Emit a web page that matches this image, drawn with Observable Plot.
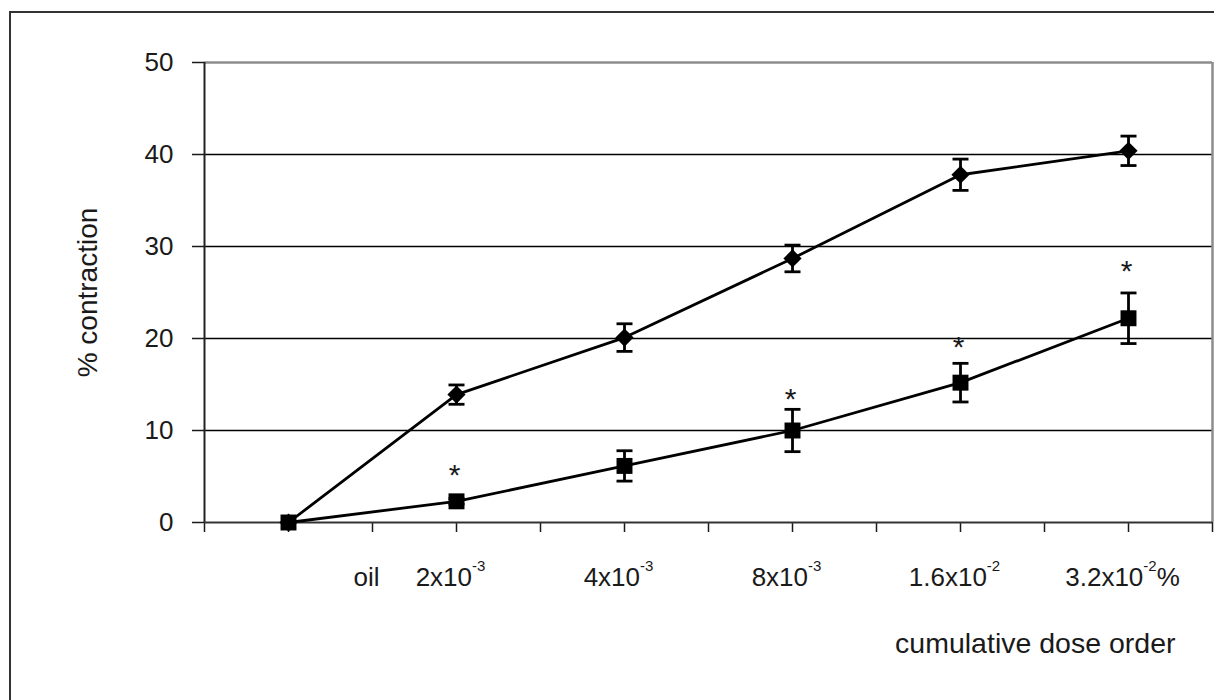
<!DOCTYPE html>
<html>
<head>
<meta charset="utf-8">
<script src="https://cdn.jsdelivr.net/npm/d3@7"></script>
<script src="https://cdn.jsdelivr.net/npm/@observablehq/plot@0.6"></script>
<style>
  html, body { margin: 0; padding: 0; background: #fff; overflow: hidden; }
  #chart { position: relative; width: 1214px; height: 700px; }
  #chart svg { position: absolute; left: 0; top: 0; }
  #chart .sheet {
    position: absolute; left: 9px; top: 11px; right: -20px; bottom: -20px;
    border-left: 2px solid #333; border-top: 2px solid #333;
    pointer-events: none; z-index: 2;
  }
</style>
</head>
<body>
<div id="chart"><div class="sheet"></div></div>
<script>
// Cumulative dose labels (base, exponent, unit)
const doses = ["oil", "2x10", "4x10", "8x10", "1.6x10", "3.2x10"];
const doseExponent = ["", "-3", "-3", "-3", "-2", "-2"];
const doseUnit = ["", "", "", "", "", "%"];

// % contraction, mean ± SE
const controlMean = [0, 13.9, 20.1, 28.7, 37.8, 40.4];
const controlSE   = [0, 1.05, 1.5, 1.45, 1.7, 1.6];
const treatedMean = [0, 2.3, 6.15, 10.0, 15.2, 22.2];
const treatedSE   = [0, 0.3, 1.65, 2.3, 2.1, 2.75];

// significance markers (height of the asterisk, % contraction)
const starLevel = [null, 6.0, null, 14.2, 19.9, 28.2];

const yTicks = [0, 10, 20, 30, 40, 50];
const gridLevels = [10, 20, 30, 40];

const control = controlMean.map((v, i) => ({i, v, e: controlSE[i]}));
const treated = treatedMean.map((v, i) => ({i, v, e: treatedSE[i]}));
const bars = [...control, ...treated].filter(d => d.e > 0);
const caps = bars.flatMap(d => [{i: d.i, y: d.v - d.e}, {i: d.i, y: d.v + d.e}]);
const stars = starLevel.map((y, i) => ({i, y})).filter(d => d.y != null);
// "oil" sits between the baseline point and the first dose
const labels = doses.map((t, i) => ({i: i === 0 ? 0.5 : i, t}));

// horizontal cap for the error bars
const capSymbol = {draw(ctx) { ctx.moveTo(-8, 0); ctx.lineTo(8, 0); }};

const font = "'Liberation Sans', Arial, Helvetica, sans-serif";

const plot = Plot.plot({
  width: 1214,
  height: 700,
  marginLeft: 204,
  marginRight: 2,
  marginTop: 62,
  marginBottom: 178,
  x: {domain: [-0.5, 5.5]},
  y: {domain: [0, 50]},
  style: {fontFamily: font, color: "#1a1a1a", background: "transparent", overflow: "visible"},
  marks: [
    Plot.gridY(gridLevels, {stroke: "#000", strokeOpacity: 1, strokeWidth: 1.4}),
    Plot.ruleY([50], {stroke: "#8c8c8c", strokeWidth: 2.5}),
    Plot.ruleX([5.5], {stroke: "#8c8c8c", strokeWidth: 2.5}),
    Plot.axisY({ticks: yTicks, tickSize: 12, tickPadding: 19, fontSize: 26, label: null, strokeWidth: 1.5}),
    Plot.axisX({ticks: d3.range(-0.5, 5.51, 0.5), tickSize: 10, tickFormat: () => "", label: null, strokeWidth: 1.5}),
    Plot.ruleX([-0.5], {stroke: "#222", strokeWidth: 2}),
    Plot.ruleY([0], {stroke: "#333", strokeWidth: 2.2}),
    Plot.text(["% contraction"], {frameAnchor: "left", textAnchor: "middle", rotate: -90, dx: -116, fontSize: 28}),
    Plot.text(["cumulative dose order"], {frameAnchor: "bottom-right", textAnchor: "end", dx: -37, dy: 130, fontSize: 28.5}),
    Plot.text(labels, {x: "i", text: "t", frameAnchor: "bottom", dy: 63, dx: -6, fontSize: 26, ariaDescription: "dose labels"}),
    Plot.line(control, {x: "i", y: "v", stroke: "#000", strokeWidth: 2.8}),
    Plot.line(treated, {x: "i", y: "v", stroke: "#000", strokeWidth: 2.8}),
    Plot.ruleX(bars, {x: "i", y1: d => d.v - d.e, y2: d => d.v + d.e, stroke: "#000", strokeWidth: 2.8}),
    Plot.dot(caps, {x: "i", y: "y", symbol: capSymbol, fill: "none", stroke: "#000", strokeWidth: 2.8}),
    Plot.dot(control, {x: "i", y: "v", symbol: "diamond2", r: 8.2, fill: "#000", stroke: "none"}),
    Plot.dot(treated, {x: "i", y: "v", symbol: "square", r: 9, fill: "#000", stroke: "none"}),
    Plot.text(stars, {x: "i", y: "y", text: () => "*", fontSize: 30, dx: -2, dy: 8})
  ]
});

// write the dose labels with raised exponents
const svgNS = "http://www.w3.org/2000/svg";
plot.querySelectorAll('g[aria-description="dose labels"] text').forEach((node, k) => {
  const i = node.__data__ ?? k;
  node.textContent = "";
  const base = document.createElementNS(svgNS, "tspan");
  base.textContent = doses[i];
  node.appendChild(base);
  if (doseExponent[i]) {
    const sup = document.createElementNS(svgNS, "tspan");
    sup.setAttribute("font-size", "15");
    sup.setAttribute("dy", "-15");
    sup.textContent = doseExponent[i];
    node.appendChild(sup);
  }
  if (doseUnit[i]) {
    const unit = document.createElementNS(svgNS, "tspan");
    unit.setAttribute("dy", "15");
    unit.textContent = doseUnit[i];
    node.appendChild(unit);
  }
});

document.getElementById("chart").prepend(plot);
</script>
</body>
</html>
